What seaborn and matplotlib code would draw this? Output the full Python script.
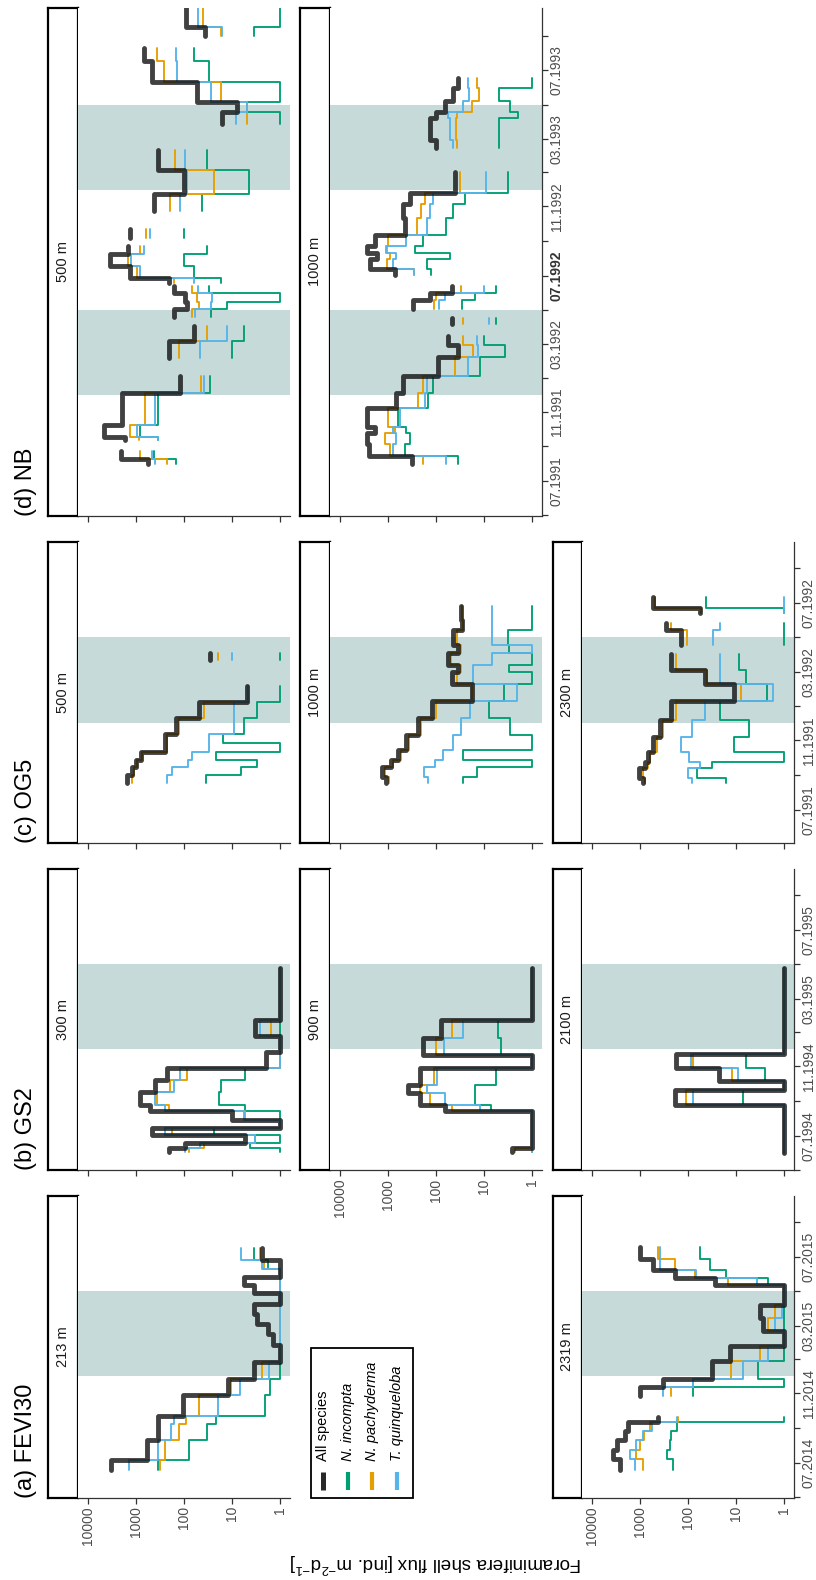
import numpy as np
import pandas as pd
import matplotlib
matplotlib.use("Agg")
import matplotlib.pyplot as plt
import matplotlib.dates as mdates
from matplotlib.patches import Rectangle
from matplotlib.lines import Line2D
from matplotlib.ticker import FixedLocator, FixedFormatter, NullLocator
import seaborn as sns

sns.set_theme(style="white")
plt.rcParams["font.family"] = ["Liberation Sans", "DejaVu Sans"]
plt.rcParams["mathtext.fontset"] = "custom"
plt.rcParams["mathtext.rm"] = "Liberation Sans"
plt.rcParams["mathtext.it"] = "Liberation Sans:italic"

NAN = np.nan

# ------------------------------------------------------------------
# Shell fluxes (ind. m-2 d-1). *_t = cup boundaries in decimal years,
# one flux value per cup; NAN marks cups without a sample.
# ------------------------------------------------------------------
# (a) FEVI30
fevi_213_t = [2014.459, 2014.508, 2014.605, 2014.686, 2014.722, 2014.824, 2014.904,
              2014.985, 2015.066, 2015.123, 2015.172, 2015.220, 2015.269, 2015.318,
              2015.358, 2015.399, 2015.439, 2015.480, 2015.541]
fevi_213_all = [3240, 600, 350, 350, 107, 12, 3.6, 1, 1.45, 1.85, 3.1, 3.5, 1, 3.5, 5.8, 1, 1, 2.4]
fevi_213_inc = [350, 78, 33, 22, 2.1, 1.65, 1, 1, 1, 1, 1, 1, 1, 1, 1, 1, 1.8, 3.5]
fevi_213_pac = [310, 250, 128, 89, 48, 10.7, 2.4, 1, 1, 1, 1, 1, 1, 1, 1, 1, 2.2, 2.6]
fevi_213_qui = [1380, 350, 186, 165, 20, 7, 1.7, 1, 1, 1, 1, 1, 1, 1, 1, 1, 2.4, 6.5]

fevi_2319_t = [2014.460, 2014.514, 2014.559, 2014.604, 2014.649, 2014.694, 2014.720,
               2014.819, 2014.864, 2014.900, 2014.990, 2015.062, 2015.134, 2015.197,
               2015.260, 2015.359, 2015.394, 2015.430, 2015.484, 2015.542]
fevi_2319_all = [2570, 3550, 2950, 2040, 1740, 417, NAN, 1000, 320, 32, 13.5, 1, 2.75, 3.2, 1, 27, 186, 525, 1000]
fevi_2319_inc = [200, 275, 234, 219, 170, 1, NAN, 78, 1, 3.5, 1, 1, 1, 1, 1, 2.1, 16, 35, 56]
fevi_2319_pac = [850, 1175, 1000, 800, 617, 158, NAN, 220, 78, 12.3, 3.2, 1, 2.1, 1.55, 1, 14.5, 71, 186, 417]
fevi_2319_qui = [1260, 1585, 1175, 850, 560, 170, NAN, 320, 78, 7.1, 2.1, 1, 1.55, 1.07, 1, 3.7, 66, 380, 380]

# (b) GS2
gs2_300_t = [1994.417, 1994.436, 1994.460, 1994.501, 1994.534, 1994.574, 1994.614, 1994.646,
             1994.711, 1994.768, 1994.824, 1994.904, 1994.978, 1995.058, 1995.309]
gs2_300_all = [210, 94, 5.3, 465, 1, 10, 500, 810, 400, 225, 2.0, 1, 3.3, 1]
gs2_300_inc = [1, 4.2, 1, 24, 1, 1, 5.3, 19, 17.5, 5.3, 1, 1, 1, 1]
gs2_300_pac = [80, 39, 3.3, 178, 1, 5.3, 210, 365, 192, 87, 1, 1, 1.6, 1]
gs2_300_qui = [94, 46, 3.3, 245, 1, 5.7, 245, 400, 163, 120, 1, 1, 2.7, 1]

gs2_900_t = [1994.417, 1994.436, 1994.614, 1994.646, 1994.703, 1994.744, 1994.824,
             1994.889, 1994.969, 1995.058, 1995.309]
gs2_900_all = [2.6, 1, 64, 214, 375, 214, 1, 182, 76, 1]
gs2_900_inc = [1, 1, 7, 15, 15, 5.6, 1, 4.4, 5, 1]
gs2_900_pac = [2.2, 1, 47, 132, 214, 107, 1, 100, 45, 1]
gs2_900_qui = [1, 1, 12, 63, 155, 96, 1, 66, 27, 1]

gs2_2100_t = [1994.411, 1994.644, 1994.716, 1994.760, 1994.824, 1994.895, 1995.309]
gs2_2100_all = [1, 186, 1, 22, 172, 1]
gs2_2100_inc = [1, 7, 1, 2.5, 6.2, 1]
gs2_2100_pac = [1, 107, 1, 12, 78, 1]
gs2_2100_qui = [1, 78, 1, 9, 84, 1]

# (c) OG5
og5_500_t = [1991.628, 1991.665, 1991.702, 1991.738, 1991.778, 1991.818, 1991.864,
             1991.939, 1992.019, 1992.097, 1992.221, 1992.253]
og5_500_all = [1550, 1200, 1000, 790, 250, 250, 145, 50, 5, NAN, 29]
og5_500_inc = [35, 6.5, 3.1, 22, 1, 15.5, 5.7, 3.1, 1, NAN, 1]
og5_500_pac = [1200, 1120, 940, 730, 228, 228, 128, 39, 4.7, NAN, 20]
og5_500_qui = [229, 178, 84, 69, 31, 31, 9.4, 9.4, 4.7, NAN, 10]

og5_1000_t = [1991.628, 1991.654, 1991.705, 1991.738, 1991.786, 1991.859, 1991.939, 1992.024,
              1992.104, 1992.164, 1992.197, 1992.253, 1992.294, 1992.365, 1992.414, 1992.482]
og5_1000_all = [1070, 1330, 870, 600, 415, 234, 120, 18, 46, 35, 56, 35, 44, 28, 30]
og5_1000_inc = [27, 14, 1, 27, 1, 2.8, 7.7, 3.8, 1, 3, 1, 3, 3.2, 1, 1]
og5_1000_pac = [920, 1120, 770, 525, 365, 205, 98, 18, 36, 30, 49, 30, 36, 27, 28]
og5_1000_qui = [145, 174, 105, 69, 44, 30, 19, 2, 17, 17, 6.8, 1, 6.8, 6.8, 6.8]

og5_2300_t = [1991.628, 1991.649, 1991.698, 1991.729, 1991.778, 1991.850, 1991.931, 1992.024,
              1992.104, 1992.175, 1992.249, 1992.294, 1992.365, 1992.398, 1992.446, 1992.470,
              1992.527]
og5_2300_all = [870, 1040, 770, 680, 530, 380, 222, 11, 44, 222, NAN, 135, 285, NAN, 56, 530]
og5_2300_inc = [16, 64, 32, 1, 11, 5.3, 21, 2.2, 6, 8.7, NAN, 1, 1, NAN, 1, 41]
og5_2300_pac = [770, 870, 680, 600, 445, 320, 173, 7.7, 39, 173, NAN, 105, 222, NAN, 52, 490]
og5_2300_qui = [82, 100, 56, 93, 141, 82, 44, 1.7, 21, 21, NAN, 30, 21, NAN, 1, 1]

# (d) NB
nb_500_t = [1991.579, 1991.604, 1991.642, 1991.695, 1991.712, 1991.770, 1991.928, 1992.011,
            1992.094, 1992.178, 1992.253, 1992.294, 1992.335, 1992.369, 1992.410, 1992.444,
            1992.460, 1992.485, 1992.544, 1992.601, 1992.643, 1992.679, 1992.723, 1992.809,
            1992.892, 1993.009, 1993.109, 1993.233, 1993.291, 1993.341, 1993.440, 1993.540,
            1993.607, 1993.665, 1993.707, 1993.799]
nb_500_all = [550, 2050, NAN, 1660, 4700, 1950, 120, NAN, 210, 63, NAN, 165, 87, 94, 165, NAN,
              210, 1310, 3500, 1450, NAN, 1350, NAN, 430, 100, 340, NAN, 16, 7.9, 54, 465, 690,
              NAN, 36, 91]
nb_500_inc = [150, 415, NAN, 340, 840, 355, 29, NAN, 10, 5.7, NAN, 28, 12.7, 1, 31, NAN,
              17, 63, 100, 33, NAN, 100, NAN, 42, 4.5, 33, NAN, 1, 4.9, 1, 31, 63,
              NAN, 3.5, 1]
nb_500_pac = [225, 840, NAN, 880, 1300, 640, 44, NAN, 130, 33, NAN, 68, 49, 54, 68, NAN,
              165, 930, 1450, 810, NAN, 610, NAN, 192, 24, 152, NAN, 4.9, 4.9, 17, 257, 365,
              NAN, 17, 41]
nb_500_qui = [400, 465, NAN, 340, 950, 400, 39, NAN, 46, 12.7, NAN, 60, 27, 26, 52, NAN,
              63, 810, 1260, 690, NAN, 520, NAN, 120, 87, 94, NAN, 8.5, 4.9, 28, 140, 150,
              NAN, 16, 52]

nb_1000_t = [1991.579, 1991.620, 1991.679, 1991.729, 1991.762, 1991.854, 1991.928, 1992.011,
             1992.103, 1992.161, 1992.203, 1992.260, 1992.290, 1992.335, 1992.377, 1992.413,
             1992.444, 1992.502, 1992.527, 1992.576, 1992.609, 1992.643, 1992.693, 1992.776,
             1992.843, 1992.900, 1993.000, 1993.117, 1993.159, 1993.266, 1993.291, 1993.349,
             1993.408, 1993.458]
nb_1000_all = [310, 2390, 2700, 1870, 2700, 660, 480, 89, 34, 55, NAN, 45, NAN, 295, 134, 47, NAN,
               715, 2290, 1660, 2700, 1870, 445, 480, 350, 40, NAN, 97, 134, 97, 65, 44, 34]
nb_1000_inc = [34, 445, 350, 410, 610, 145, 114, 12, 3.7, 10, NAN, 5.6, NAN, 29, 15, 5.5, NAN,
               123, 150, 51, 275, 183, 60, 44, 25, 3.1, NAN, 4.8, 4.8, 1.9, 2.9, 4.8, 1]
nb_1000_pac = [183, 910, 1150, 710, 980, 234, 183, 40, 17, 27, NAN, 27, NAN, 110, 98, 30, NAN,
               288, 1030, 910, 1030, 980, 250, 200, 170, 31, NAN, 36, 38, 36, 18, 12.5, 14]
nb_1000_qui = [62, 780, 660, 760, 560, 170, 155, 21, 13, 14, NAN, 7.7, NAN, 85, 65, 10, NAN,
               288, 775, 660, 1070, 410, 155, 134, 114, 8.8, NAN, 44, 51, 56, 27, 20, 21]

# time window of each station and its dark-season (Dec-Apr) periods
station_window = {"a": ("2014-04-30", "2015-10-17"), "b": ("1994-05-01", "1995-10-17"),
                  "c": ("1991-05-03", "1992-10-17"), "d": ("1991-04-30", "1993-10-21")}
station_dark = {"a": [("2014-12-01", "2015-05-01")],
                "b": [("1994-12-01", "1995-05-01")],
                "c": [("1991-12-01", "1992-05-01")],
                "d": [("1991-12-01", "1992-05-01"), ("1992-12-01", "1993-05-01")]}
station_title = {"a": "(a) FEVI30", "b": "(b) GS2", "c": "(c) OG5", "d": "(d) NB"}

species = ["N. incompta", "N. pachyderma", "T. quinqueloba", "All species"]
colors = {"All species": "#111111", "N. incompta": "#009E73",
          "N. pachyderma": "#E69F00", "T. quinqueloba": "#56B4E9"}

panels = {
    ("a", 0): ("213 m", fevi_213_t, fevi_213_all, fevi_213_inc, fevi_213_pac, fevi_213_qui),
    ("a", 2): ("2319 m", fevi_2319_t, fevi_2319_all, fevi_2319_inc, fevi_2319_pac, fevi_2319_qui),
    ("b", 0): ("300 m", gs2_300_t, gs2_300_all, gs2_300_inc, gs2_300_pac, gs2_300_qui),
    ("b", 1): ("900 m", gs2_900_t, gs2_900_all, gs2_900_inc, gs2_900_pac, gs2_900_qui),
    ("b", 2): ("2100 m", gs2_2100_t, gs2_2100_all, gs2_2100_inc, gs2_2100_pac, gs2_2100_qui),
    ("c", 0): ("500 m", og5_500_t, og5_500_all, og5_500_inc, og5_500_pac, og5_500_qui),
    ("c", 1): ("1000 m", og5_1000_t, og5_1000_all, og5_1000_inc, og5_1000_pac, og5_1000_qui),
    ("c", 2): ("2300 m", og5_2300_t, og5_2300_all, og5_2300_inc, og5_2300_pac, og5_2300_qui),
    ("d", 0): ("500 m", nb_500_t, nb_500_all, nb_500_inc, nb_500_pac, nb_500_qui),
    ("d", 1): ("1000 m", nb_1000_t, nb_1000_all, nb_1000_inc, nb_1000_pac, nb_1000_qui),
}
bottom_row = {"a": 2, "b": 2, "c": 2, "d": 1}
flux_labels = {("a", 0), ("a", 2), ("b", 1)}

# ------------------------------------------------------------------
# page layout (pixels); the sheet is printed turned a quarter turn,
# so time runs upward and flux runs across
# ------------------------------------------------------------------
W, H = 816, 1580
ROW_X = [(48.4, 78.1, 290.0), (300.3, 330.0, 541.5), (552.7, 582.0, 793.5)]
COL_Y = {"a": (1196.0, 1497.6), "b": (868.7, 1170.3), "c": (541.7, 843.3), "d": (7.5, 516.0)}
AX_COL = "#333333"
TXT_COL = "#4d4d4d"

fig = plt.figure(figsize=(W / 100, H / 100), dpi=100)
fig.patch.set_facecolor("white")


def fx(x):
    return x / W


def fy(y):
    return 1 - y / H


def dec_to_num(values):
    out = []
    for d in values:
        yr = int(np.floor(d))
        a, b = pd.Timestamp(yr, 1, 1), pd.Timestamp(yr + 1, 1, 1)
        out.append(mdates.date2num(a + (d - yr) * (b - a)))
    return np.array(out)


def step_frame(bounds, values):
    tnum = dec_to_num(bounds)
    assert len(tnum) == len(values) + 1
    runs, cur = [], []
    for i, v in enumerate(values):
        if np.isnan(v):
            if cur:
                runs.append(cur)
            cur = []
        else:
            cur.append(i)
    if cur:
        runs.append(cur)
    rows = []
    for k, idx in enumerate(runs):
        for i in idx:
            rows.append((tnum[i], values[i], k))
        rows.append((tnum[idx[-1] + 1], values[idx[-1]], k))
    return pd.DataFrame(rows, columns=["t", "flux", "seg"])


def time_ticks(start, end):
    days = pd.date_range(start, end, freq="MS")
    days = [d for d in days if d.month % 2 == 1]
    labels = [d.strftime("%m.%Y") if d.month in (3, 7, 11) else "" for d in days]
    return mdates.date2num(days), labels


for col in ["a", "b", "c", "d"]:
    ytop, ybot = COL_Y[col]
    t0, t1 = [mdates.date2num(pd.Timestamp(s)) for s in station_window[col]]
    fig.text(fx(26), fy(ybot), station_title[col], rotation=90, ha="center", va="bottom",
             fontsize=17, color="black")
    for row in range(3):
        if (col, row) not in panels:
            continue
        depth, tb, v_all, v_inc, v_pac, v_qui = panels[(col, row)]
        sx0, px0, px1 = ROW_X[row]

        # strip with depth
        sax = fig.add_axes([fx(sx0), fy(ybot), (px0 - sx0) / W, (ybot - ytop) / H])
        sax.set_xticks([])
        sax.set_yticks([])
        sax.set_facecolor("white")
        for s in sax.spines.values():
            s.set_edgecolor("black")
            s.set_linewidth(1.6)
        sax.text(0.5, 0.5, depth, rotation=90, ha="center", va="center", fontsize=10.5,
                 color="#1a1a1a", transform=sax.transAxes)

        ax = fig.add_axes([fx(px0), fy(ybot), (px1 - px0) / W, (ybot - ytop) / H])
        ax.set_facecolor("white")
        ax.set_xscale("log")
        for d0, d1 in station_dark[col]:
            ax.axhspan(mdates.date2num(pd.Timestamp(d0)), mdates.date2num(pd.Timestamp(d1)),
                       color="#c6dbd9", lw=0, zorder=0)

        series = {"All species": v_all, "N. incompta": v_inc,
                  "N. pachyderma": v_pac, "T. quinqueloba": v_qui}
        for sp in species:
            df = step_frame(tb, series[sp])
            black = sp == "All species"
            sns.lineplot(data=df, x="flux", y="t", units="seg", estimator=None, orient="y",
                         sort=True, drawstyle="steps-pre", color=colors[sp],
                         lw=3.5 if black else 1.35, alpha=0.8 if black else 1.0,
                         legend=False, ax=ax, zorder=4 if black else 3)

        ax.set_xlim(10 ** 4.2, 10 ** -0.2)
        ax.set_ylim(t0, t1)
        ax.set_xlabel("")
        ax.set_ylabel("")
        ax.grid(False)

        for s in ["top", "left"]:
            ax.spines[s].set_visible(False)
        ax.spines["bottom"].set_color(AX_COL)
        ax.spines["bottom"].set_linewidth(0.9)

        ax.xaxis.set_major_locator(FixedLocator([1, 10, 100, 1000, 10000]))
        ax.xaxis.set_major_formatter(FixedFormatter(["1", "10", "100", "1000", "10000"]))
        ax.xaxis.set_minor_locator(NullLocator())
        ax.tick_params(axis="x", which="major", direction="out", length=4, width=0.9,
                       color=AX_COL, labelsize=10, labelcolor=TXT_COL, pad=2,
                       bottom=True, labelbottom=(col, row) in flux_labels, labelrotation=90)

        if row == bottom_row[col]:
            ax.spines["right"].set_color(AX_COL)
            ax.spines["right"].set_linewidth(0.9)
            tk, tl = time_ticks(*station_window[col])
            ax.yaxis.tick_right()
            ax.yaxis.set_major_locator(FixedLocator(tk))
            ax.yaxis.set_major_formatter(FixedFormatter(tl))
            ax.yaxis.set_minor_locator(NullLocator())
            ax.tick_params(axis="y", which="major", direction="out", length=4, width=0.9,
                           color=AX_COL, labelsize=10, labelcolor=TXT_COL, pad=2,
                           right=True, left=False, labelright=True, labelleft=False,
                           labelrotation=90)
            fig.canvas.draw()
            for lab in ax.get_yticklabels():
                lab.set_va("center")
                if col == "d" and lab.get_text() == "07.1992":
                    lab.set_fontweight("bold")
                    lab.set_color("#333333")
        else:
            ax.spines["right"].set_visible(False)
            ax.yaxis.set_major_locator(NullLocator())
            ax.yaxis.set_minor_locator(NullLocator())
            ax.tick_params(axis="y", left=False, right=False, labelleft=False, labelright=False)

# legend in the free cell of column (a)
lx0, lx1, ly0, ly1 = 310.7, 412.7, 1348.3, 1498.3
fig.patches.append(Rectangle((fx(lx0), fy(ly1)), (lx1 - lx0) / W, (ly1 - ly0) / H,
                             transform=fig.transFigure, fill=False, edgecolor="black",
                             lw=1.3))
legend_order = ["All species", "N. incompta", "N. pachyderma", "T. quinqueloba"]
key_x = [322.6, 347.6, 372.1, 397.1]
for sp, kx in zip(legend_order, key_x):
    black = sp == "All species"
    fig.lines.append(Line2D([fx(kx), fx(kx)], [fy(1490.0), fy(1472.0)],
                            transform=fig.transFigure, color=colors[sp],
                            lw=3.6 if black else 3.0, alpha=0.9 if black else 1.0,
                            solid_capstyle="butt"))
    fig.text(fx(kx), fy(1461.0), sp, rotation=90, ha="center", va="bottom",
             fontsize=10.5, color="black", style="normal" if black else "italic")

fig.text(fx(436), fy(1563), r"Foraminifera shell flux [ind. m$^{-2}$d$^{-1}$]",
         rotation=180, ha="center", va="center", fontsize=13.5, color="black")

fig.savefig("out.png", dpi=100, facecolor="white")
